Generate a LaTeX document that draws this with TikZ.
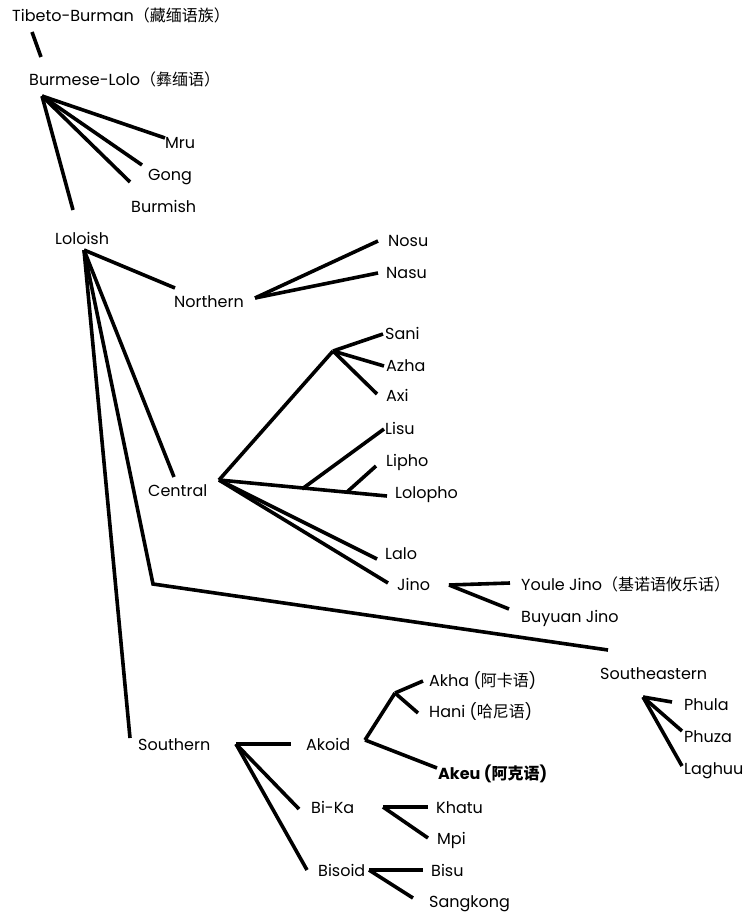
\documentclass[tikz,border=0pt]{standalone}
\usepackage{fontspec}
\setmainfont{Poppins}
\newfontfamily\cjk{Noto Sans CJK SC}
\begin{document}
\begin{tikzpicture}[x=1pt,y=-1pt,
  lbl/.style={anchor=base west,inner sep=0pt,font=\fontsize{16}{18}\selectfont},
  br/.style={line width=3.6pt}]
\useasboundingbox (0,0) rectangle (752,912);
% labels
\node[lbl] (tb) at (12,22) {Tibeto-Burman{\cjk（藏缅语族）}};
\node[lbl] (bl) at (29,86) {Burmese-Lolo{\cjk（彝缅语）}};
\node[lbl] (mru) at (165,149) {Mru};
\node[lbl] (gong) at (148,181) {Gong};
\node[lbl] (burmish) at (131,212) {Burmish};
\node[lbl] (loloish) at (55,244) {Loloish};
\node[lbl] (northern) at (174,307) {Northern};
\node[lbl] (nosu) at (388,246) {Nosu};
\node[lbl] (nasu) at (386,278) {Nasu};
\node[lbl] (central) at (148,496) {Central};
\node[lbl] (sani) at (385,339) {Sani};
\node[lbl] (azha) at (386,371) {Azha};
\node[lbl] (axi) at (386,401) {Axi};
\node[lbl] (lisu) at (385,434) {Lisu};
\node[lbl] (lipho) at (386,466) {Lipho};
\node[lbl] (lolopho) at (395,498) {Lolopho};
\node[lbl] (lalo) at (385,559) {Lalo};
\node[lbl] (jino) at (397,590) {Jino};
\node[lbl] (youle) at (521,590) {Youle Jino{\cjk（基诺语攸乐话）}};
\node[lbl] (buyuan) at (521,622) {Buyuan Jino};
\node[lbl] (se) at (600,679) {Southeastern};
\node[lbl] (phula) at (684,710) {Phula};
\node[lbl] (phuza) at (684,742) {Phuza};
\node[lbl] (laghuu) at (684,774) {Laghuu};
\node[lbl] (southern) at (138,750) {Southern};
\node[lbl] (akoid) at (306,750) {Akoid};
\node[lbl] (bika) at (311,813) {Bi-Ka};
\node[lbl] (bisoid) at (318,876) {Bisoid};
\node[lbl] (akha) at (429,686) {Akha ({\cjk 阿卡语})};
\node[lbl] (hani) at (429,717) {Hani ({\cjk 哈尼语})};
\node[lbl] (akeu) at (438,779) {\bfseries Akeu ({\cjk\bfseries 阿克语})};
\node[lbl] (khatu) at (436,813) {Khatu};
\node[lbl] (mpi) at (437,844) {Mpi};
\node[lbl] (bisu) at (431,876) {Bisu};
\node[lbl] (sangkong) at (429,907) {Sangkong};
% hubs and ends
\coordinate (c1a) at (32,32); \coordinate (c1b) at (41,57);
\coordinate (hBL) at (42,96); \coordinate (eMru) at (165,138);
\coordinate (eGong) at (142,165); \coordinate (eBurmish) at (130,182);
\coordinate (eLol) at (73,210);
\coordinate (hLol) at (84,250); \coordinate (eNorth) at (175,288);
\coordinate (eCent) at (174,477); \coordinate (bSE) at (153,584);
\coordinate (eSE) at (608,650); \coordinate (eSouth) at (130,738);
\coordinate (hNorth) at (255,298); \coordinate (eNosu) at (378,241);
\coordinate (eNasu) at (378,273);
\coordinate (hCent) at (219,480); \coordinate (hSani) at (333,351);
\coordinate (eSani) at (383,334); \coordinate (eAzha) at (384,366);
\coordinate (eAxi) at (377,394);
\coordinate (eLolopho) at (387,496); \coordinate (hLisu) at (302,489);
\coordinate (eLisu) at (384,429); \coordinate (hLipho) at (347,492);
\coordinate (eLipho) at (376,466);
\coordinate (eLalo) at (377,559); \coordinate (eJino) at (388,583);
\coordinate (hJino) at (449,585); \coordinate (eYoule) at (510,583);
\coordinate (eBuyuan) at (509,609);
\coordinate (hSE) at (643,697); \coordinate (ePhula) at (672,702);
\coordinate (ePhuza) at (682,731); \coordinate (eLaghuu) at (682,766);
\coordinate (hSouth) at (236,744); \coordinate (eAkoid) at (291,744);
\coordinate (eBika) at (299,809); \coordinate (eBisoid) at (307,870);
\coordinate (hAkoid) at (365,740); \coordinate (hAkha) at (395,693);
\coordinate (eAkha) at (423,681); \coordinate (eHani) at (418,713);
\coordinate (eAkeu) at (437,768);
\coordinate (hBika) at (383,807); \coordinate (eKhatu) at (428,807);
\coordinate (eMpi) at (428,838);
\coordinate (hBisoid) at (369,870); \coordinate (eBisu) at (423,870);
\coordinate (eSangkong) at (413,898);
% branches
\draw[br] (c1a) -- (c1b);
\draw[br] (hBL) -- (eMru); \draw[br] (hBL) -- (eGong);
\draw[br] (hBL) -- (eBurmish); \draw[br] (hBL) -- (eLol);
\draw[br] (hLol) -- (eNorth); \draw[br] (hLol) -- (eCent);
\draw[br] (hLol) -- (bSE) -- (eSE); \draw[br] (hLol) -- (eSouth);
\draw[br] (hNorth) -- (eNosu); \draw[br] (hNorth) -- (eNasu);
\draw[br] (hCent) -- (hSani);
\draw[br] (hSani) -- (eSani); \draw[br] (hSani) -- (eAzha); \draw[br] (hSani) -- (eAxi);
\draw[br] (hCent) -- (eLolopho);
\draw[br] (hLisu) -- (eLisu); \draw[br] (hLipho) -- (eLipho);
\draw[br] (hCent) -- (eLalo); \draw[br] (hCent) -- (eJino);
\draw[br] (hJino) -- (eYoule); \draw[br] (hJino) -- (eBuyuan);
\draw[br] (hSE) -- (ePhula); \draw[br] (hSE) -- (ePhuza); \draw[br] (hSE) -- (eLaghuu);
\draw[br] (hSouth) -- (eAkoid); \draw[br] (hSouth) -- (eBika); \draw[br] (hSouth) -- (eBisoid);
\draw[br] (hAkoid) -- (hAkha);
\draw[br] (hAkha) -- (eAkha); \draw[br] (hAkha) -- (eHani);
\draw[br] (hAkoid) -- (eAkeu);
\draw[br] (hBika) -- (eKhatu); \draw[br] (hBika) -- (eMpi);
\draw[br] (hBisoid) -- (eBisu); \draw[br] (hBisoid) -- (eSangkong);
\end{tikzpicture}
\end{document}
